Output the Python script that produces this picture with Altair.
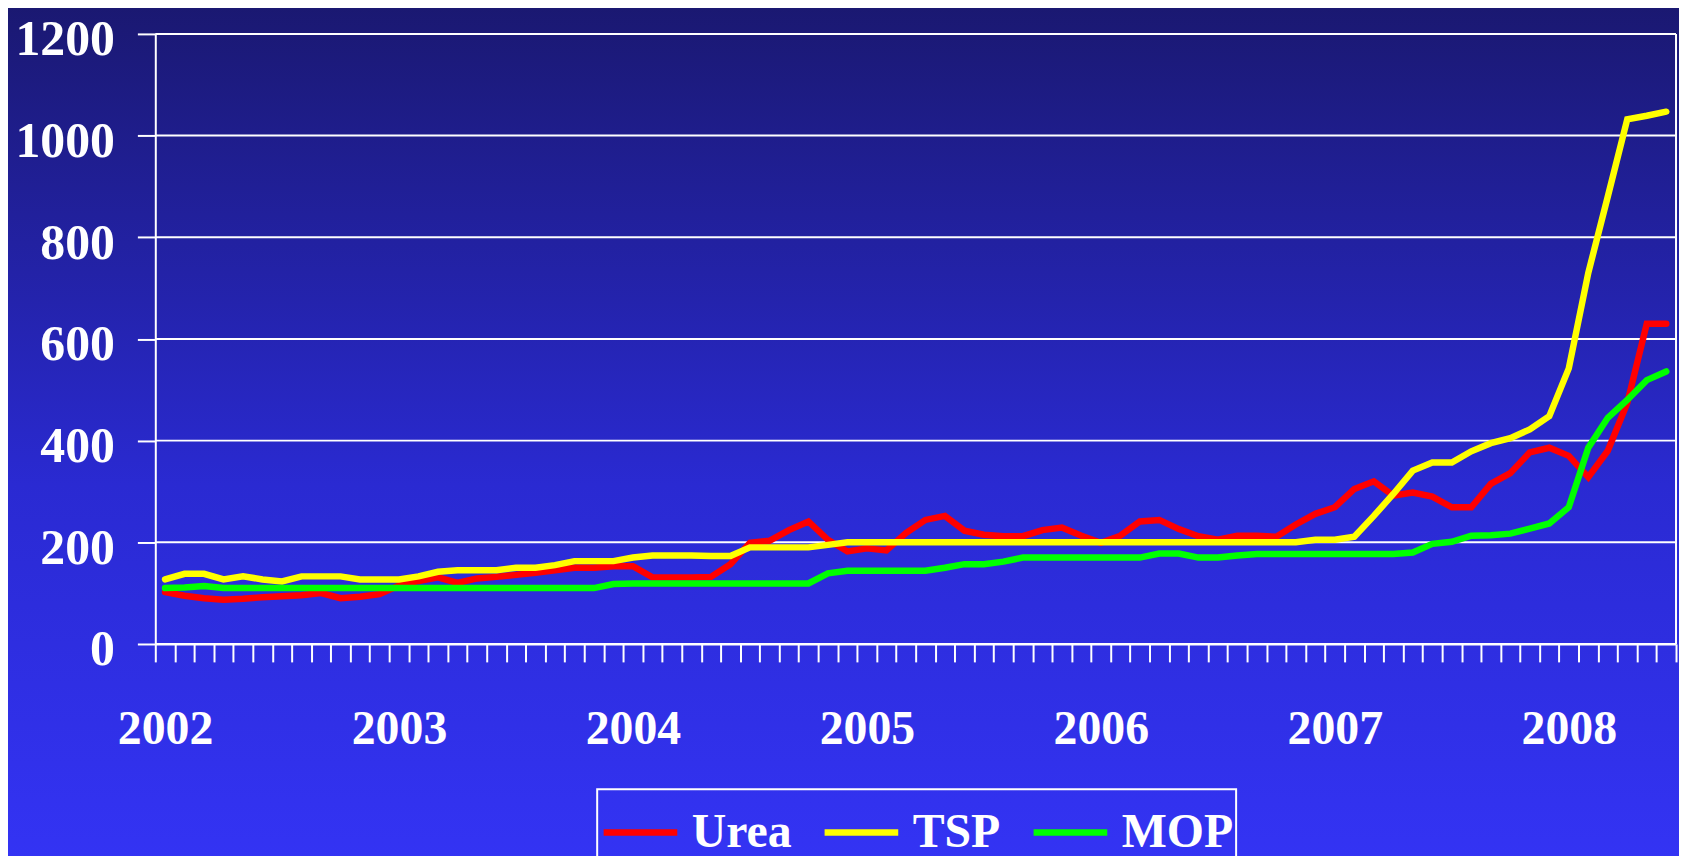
import json
import altair as alt
import pandas as pd

# ---------------- data ----------------
years = ["2002", "2003", "2004", "2005", "2006", "2007", "2008"]
series_names = ["Urea", "TSP", "MOP"]
series_colors = ["#FF0000", "#FFFF00", "#00FF00"]
y_ticks = [0, 200, 400, 600, 800, 1000, 1200]

# monthly values, Jan 2002 .. Jun 2008
urea = [102, 95, 90, 87, 89, 92, 94, 96, 100, 90, 93, 98,
        115, 124, 131, 120, 129, 132, 136, 140, 145, 150, 150, 153,
        153, 131, 131, 131, 132, 157, 199, 203, 224, 241, 205, 182,
        188, 184, 218, 244, 252, 223, 215, 212, 212, 224, 229, 213,
        199, 213, 241, 244, 226, 212, 205, 213, 213, 211, 235, 256,
        269, 305, 320, 292, 298, 290, 269, 269, 315, 336, 377, 386,
        370, 328, 380, 474, 630, 630]
tsp = [127, 138, 138, 127, 133, 127, 123, 133, 133, 133, 127, 127,
       127, 133, 142, 145, 145, 145, 150, 150, 155, 163, 163, 163,
       170, 174, 174, 174, 173, 173, 190, 190, 190, 190, 195, 200,
       200, 200, 200, 200, 200, 200, 200, 200, 200, 200, 200, 200,
       200, 200, 200, 200, 200, 200, 200, 200, 200, 200, 200, 205,
       205, 211, 252, 295, 341, 357, 357, 379, 395, 405, 422, 448,
       542, 730, 880, 1032, 1039, 1047]
mop = [110, 111, 114, 110, 110, 110, 110, 110, 110, 110, 110, 110,
       110, 110, 110, 110, 110, 110, 110, 110, 110, 110, 110, 118,
       119, 119, 119, 119, 119, 119, 119, 119, 119, 119, 139, 144,
       144, 144, 144, 144, 150, 157, 157, 162, 170, 170, 170, 170,
       170, 170, 170, 178, 178, 170, 170, 174, 177, 177, 177, 177,
       177, 177, 177, 177, 180, 197, 201, 213, 214, 217, 227, 237,
       269, 386, 445, 480, 519, 536]

n = len(urea)
rows = []
for name, vals in zip(series_names, [urea, tsp, mop]):
    for i, v in enumerate(vals):
        rows.append({"m": i, "series": name, "value": v})
df = pd.DataFrame(rows)

# ---------------- layout ----------------
TOP = 24
W, H = 1528, 613
FONT = "Liberation Serif"

xscale = alt.Scale(domain=[-0.5, n - 0.5], nice=False, zero=False)
yscale = alt.Scale(domain=[0, 1200], nice=False, zero=True)

tick_vals = [i - 0.5 for i in range(n + 1)]
label_pos = [12 * j - 0.5 for j in range(len(years))]
label_expr = (f"indexof({json.dumps(label_pos)}, datum.value) >= 0 ? "
              f"{json.dumps(years)}[indexof({json.dumps(label_pos)}, datum.value)] : ''")

y_axis = alt.Axis(
    values=y_ticks, grid=False, format="d",
    domainColor="white", domainWidth=2, tickColor="white", tickWidth=2, tickSize=18,
    labelColor="white", labelFont=FONT, labelFontWeight="bold", labelFontSize=50,
    labelPadding=23, labelOffset=6, labelOverlap=False, labelBound=False, labelFlush=False,
    zindex=1)

x_axis = alt.Axis(
    values=tick_vals, labelExpr=label_expr, grid=False,
    domainColor="white", domainWidth=2, tickColor="white", tickWidth=2, tickSize=18,
    labelColor="white", labelFont=FONT, labelFontWeight="bold", labelFontSize=48,
    labelPadding=44, labelOffset=W / n / 2, labelFlush=False, labelOverlap=False,
    labelBound=False, zindex=1)

bg = alt.Chart(pd.DataFrame({"z": [0]})).mark_rect(
    color=alt.Gradient(
        gradient="linear", x1=0, x2=0, y1=0, y2=1,
        stops=[alt.GradientStop(offset=0, color="#1a1870"),
               alt.GradientStop(offset=0.55, color="#2a2ad2"),
               alt.GradientStop(offset=1, color="#3434f6")],
    )
).encode(x=alt.value(-160), x2=alt.value(W + 20), y=alt.value(-TOP - 10), y2=alt.value(H + 240))

grid = alt.Chart(pd.DataFrame({"v": y_ticks})).mark_rule(
    color="white", strokeWidth=2
).encode(y=alt.Y("v:Q", scale=yscale, title=None, axis=y_axis))

border = alt.Chart(pd.DataFrame({"z": [0]})).mark_rule(
    color="white", strokeWidth=2
).encode(x=alt.value(W), y=alt.value(0), y2=alt.value(H))

lines = alt.Chart(df).mark_line(strokeWidth=6.5, strokeCap="round").encode(
    x=alt.X("m:Q", scale=xscale, title=None, axis=x_axis),
    y=alt.Y("value:Q", scale=yscale, title=None, axis=y_axis),
    color=alt.Color("series:N", scale=alt.Scale(domain=series_names, range=series_colors),
                    sort=series_names,
                    legend=alt.Legend(
                        orient="none", legendX=444, legendY=764 - (TOP - 19), direction="horizontal",
                        title=None, symbolType="stroke", symbolSize=5476, symbolStrokeWidth=6.5,
                        labelFont=FONT, labelFontWeight="bold", labelFontSize=48,
                        labelColor="white", labelOffset=11, columnPadding=19, padding=3,
                        gridAlign="none", strokeColor="white")),
    order=alt.Order("m:Q"),
)

chart = alt.layer(bg, grid, border, lines).properties(
    width=W, height=H,
    autosize=alt.AutoSizeParams(type="none"),
    padding={"left": 148, "top": TOP, "right": 3, "bottom": 848 - TOP - H},
).configure_view(stroke=None).configure_legend(strokeWidth=2)

chart.save("out.html", embed_options={"renderer": "svg", "actions": False})
